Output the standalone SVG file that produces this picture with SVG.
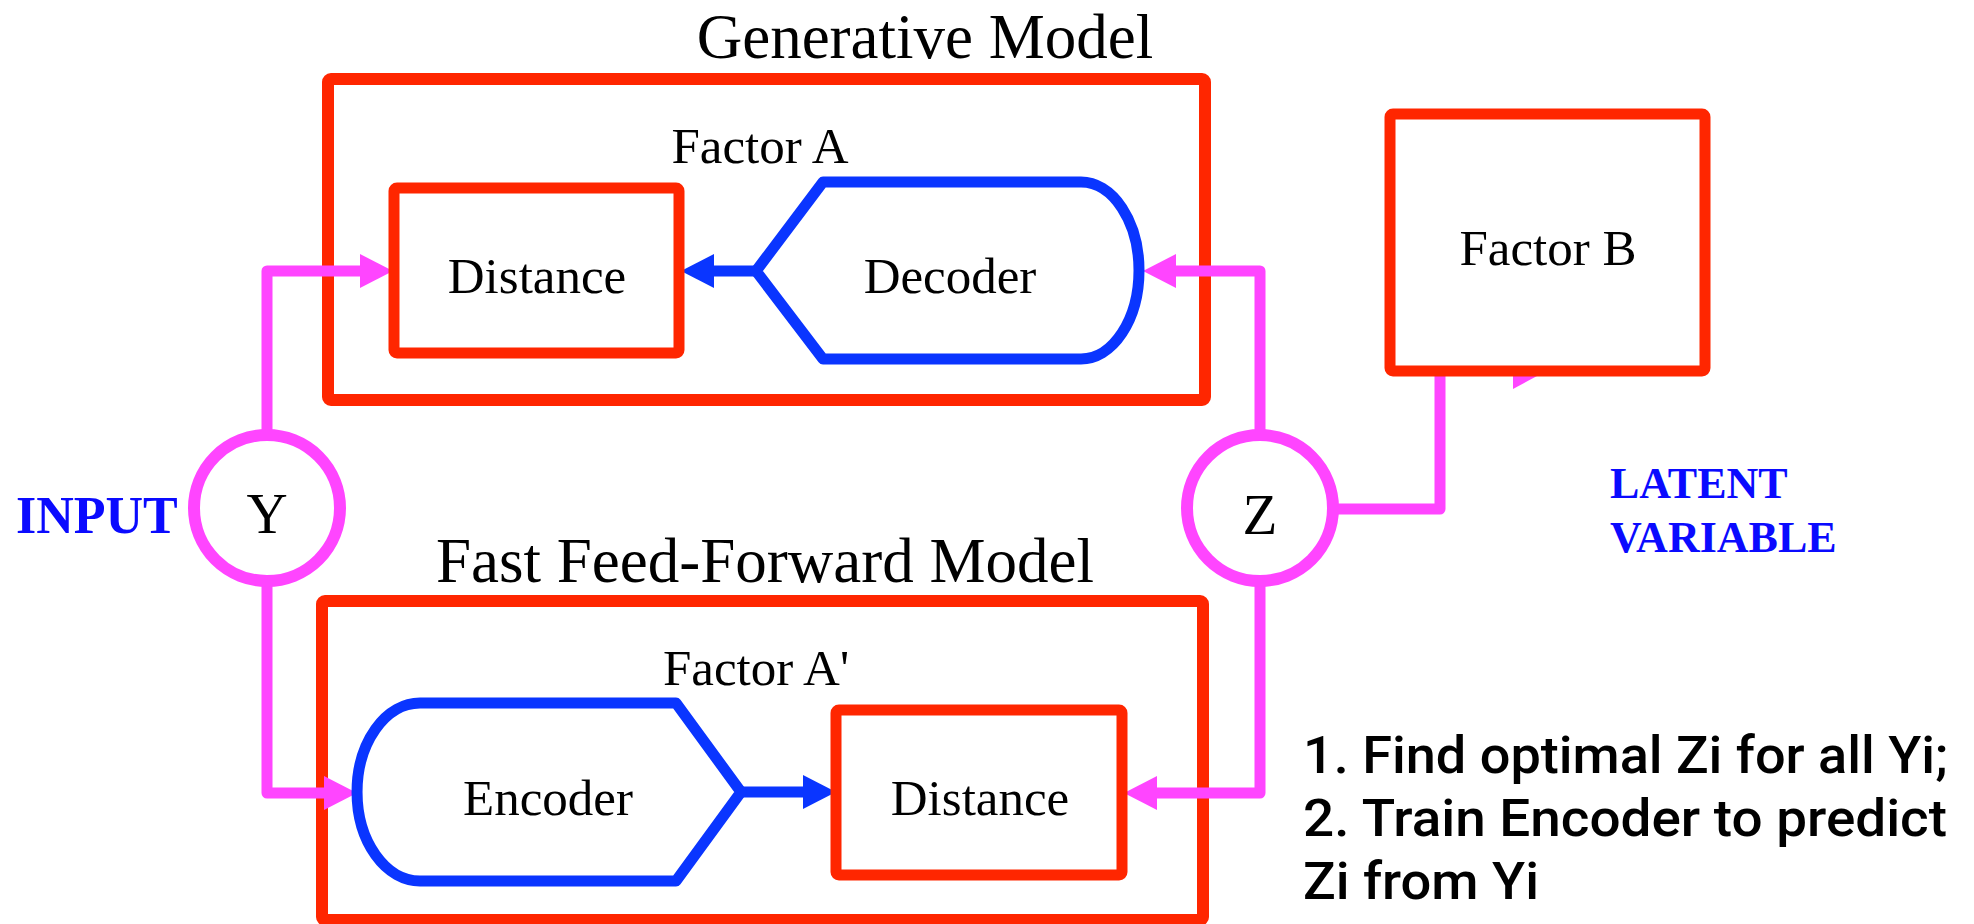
<svg xmlns="http://www.w3.org/2000/svg" width="1974" height="924" viewBox="0 0 1974 924">
<style>
.box{fill:none;stroke:#ff2600;stroke-width:12;stroke-linejoin:round}
.inner{fill:#fff;stroke:#ff2600;stroke-width:11;stroke-linejoin:round}
.coder{fill:#fff;stroke:#0a35ff;stroke-width:11;stroke-linejoin:round}
.var{fill:#fff;stroke:#ff45ff;stroke-width:12}
.pink{fill:none;stroke:#ff45ff;stroke-width:11;stroke-linejoin:round}
.blue{fill:none;stroke:#0a35ff;stroke-width:11}
.serif{font-family:'Liberation Serif','Times New Roman',serif;fill:#000;text-anchor:middle}
.title{font-size:63px}
.lbl{font-size:51px}
.tag{font-family:'Liberation Serif','Times New Roman',serif;font-weight:bold;fill:#0a0aff}
.note{font-family:Roboto,'Open Sans',sans-serif;font-weight:500;font-size:52px;fill:#000}
</style>
<defs>
<marker id="ap" markerUnits="userSpaceOnUse" markerWidth="34" markerHeight="34" refX="0" refY="17" orient="auto" overflow="visible">
<path d="M0,0 L33,17 L0,34 Z" fill="#ff45ff"/>
</marker>
<marker id="ab" markerUnits="userSpaceOnUse" markerWidth="34" markerHeight="34" refX="0" refY="17" orient="auto" overflow="visible">
<path d="M0,0 L33,17 L0,34 Z" fill="#0a35ff"/>
</marker>
</defs>
<rect width="1974" height="924" fill="#fff"/>

<g id="generative-model">
<rect class="box" x="328" y="79" width="877" height="321" rx="3"/>
<text class="serif title" x="925" y="58">Generative Model</text>
<text class="serif lbl" x="760" y="163">Factor A</text>
</g>
<g id="ff-model">
<rect class="box" x="322" y="601" width="881" height="319" rx="3"/>
<text class="serif title" x="765" y="582">Fast Feed-Forward Model</text>
<text class="serif lbl" x="756" y="685">Factor A'</text>
</g>

<g id="connectors">
<path class="pink" d="M267,432 L267,271 L360,271" marker-end="url(#ap)"/>
<path class="pink" d="M267,584 L267,793 L324,793" marker-end="url(#ap)"/>
<path class="pink" d="M1260,432 L1260,271 L1176,271" marker-end="url(#ap)"/>
<path class="pink" d="M1260,584 L1260,793 L1157,793" marker-end="url(#ap)"/>
<path class="pink" d="M1337,509 L1440,509 L1440,372"/>
<polygon points="1513,376 1537,376 1513,389" fill="#ff45ff"/>
<path class="blue" d="M756,271 L714,271" marker-end="url(#ab)"/>
<path class="blue" d="M741,792 L803,792" marker-end="url(#ab)"/>
</g>

<g id="distance-top">
<rect class="inner" x="394" y="188" width="285" height="165" rx="3"/>
<text class="serif lbl" x="537" y="293">Distance</text>
</g>
<g id="decoder">
<path class="coder" d="M823,182 L1081,182 A58,88.5 0 0 1 1081,359 L823,359 L756,271 Z"/>
<text class="serif lbl" x="950" y="293">Decoder</text>
</g>
<g id="encoder">
<path class="coder" d="M420,703 L676,703 L741,792 L676,881 L420,881 A63,89 0 0 1 420,703 Z"/>
<text class="serif lbl" x="548" y="815">Encoder</text>
</g>
<g id="distance-bottom">
<rect class="inner" x="836" y="710" width="286" height="165" rx="3"/>
<text class="serif lbl" x="980" y="815">Distance</text>
</g>
<g id="factor-b">
<rect class="inner" x="1390" y="114" width="315" height="257" rx="3"/>
<text class="serif lbl" x="1548" y="265">Factor B</text>
</g>
<g id="y-node">
<circle class="var" cx="267" cy="508" r="73"/>
<text class="serif" x="267" y="533" font-size="57">Y</text>
</g>
<g id="z-node">
<circle class="var" cx="1260" cy="508" r="73"/>
<text class="serif" x="1260" y="534" font-size="57">Z</text>
</g>
<g id="labels">
<text class="tag" x="16" y="533" font-size="52">INPUT</text>
<text class="tag" x="1610" y="498" font-size="44">LATENT</text>
<text class="tag" x="1610" y="552" font-size="44">VARIABLE</text>
<text class="note" x="1303" y="773" textLength="645" lengthAdjust="spacingAndGlyphs">1. Find optimal Zi for all Yi;</text>
<text class="note" x="1303" y="836" textLength="644" lengthAdjust="spacingAndGlyphs">2. Train Encoder to predict</text>
<text class="note" x="1303" y="899" textLength="236" lengthAdjust="spacingAndGlyphs">Zi from Yi</text>
</g>
</svg>
